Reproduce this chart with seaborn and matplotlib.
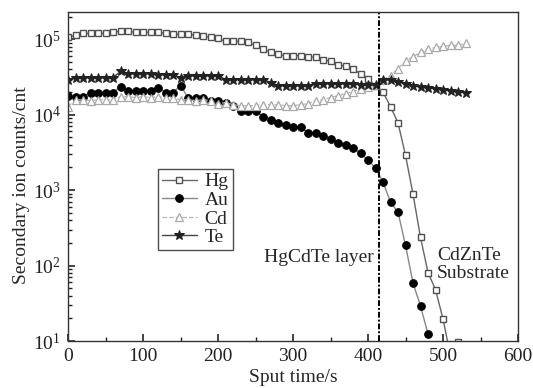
import numpy as np
import pandas as pd
import matplotlib
matplotlib.use("Agg")
import matplotlib.pyplot as plt
import seaborn as sns

# sputter time grid (s), one point every 10 s
t_hg = list(range(0, 530, 10))
t_au = list(range(0, 490, 10))
t_cd = list(range(0, 540, 10))
t_te = list(range(0, 540, 10))

hg = [1.06e5, 1.13e5, 1.2e5, 1.2e5, 1.2e5, 1.2e5, 1.24e5, 1.28e5, 1.28e5, 1.24e5,
      1.24e5, 1.24e5, 1.24e5, 1.2e5, 1.17e5, 1.17e5, 1.17e5, 1.13e5, 1.1e5, 1.06e5,
      1.03e5, 9.4e4, 9.4e4, 9.4e4, 9.1e4, 8.3e4, 7.4e4, 6.7e4, 6.3e4, 6.1e4,
      6.1e4, 6.1e4, 5.9e4, 5.75e4, 5.4e4, 5.1e4, 4.6e4, 4.4e4, 4.0e4, 3.5e4,
      3.0e4, 2.4e4, 2.0e4, 1.28e4, 7.8e3, 2.9e3, 885, 236, 81, 48,
      19.6, 6.3, 9.7]

au = [1.79e4, 1.74e4, 1.74e4, 1.97e4, 1.97e4, 1.97e4, 1.97e4, 2.36e4, 2.09e4, 2.09e4,
      2.09e4, 2.09e4, 2.29e4, 1.97e4, 1.97e4, 2.44e4, 1.69e4, 1.69e4, 1.69e4, 1.54e4,
      1.54e4, 1.45e4, 1.32e4, 1.13e4, 1.13e4, 1.13e4, 9.4e3, 8.6e3, 7.8e3, 7.4e3,
      6.9e3, 6.9e3, 5.75e3, 5.75e3, 5.25e3, 4.8e3, 4.2e3, 4.0e3, 3.6e3, 3.1e3,
      2.5e3, 1.96e3, 1.28e3, 690, 510, 185, 59, 29, 12.4]

cd = [1.28e4, 1.58e4, 1.58e4, 1.54e4, 1.58e4, 1.58e4, 1.58e4, 1.74e4, 1.74e4, 1.69e4,
      1.74e4, 1.69e4, 1.74e4, 1.69e4, 1.69e4, 1.58e4, 1.58e4, 1.54e4, 1.58e4, 1.54e4,
      1.4e4, 1.45e4, 1.36e4, 1.32e4, 1.32e4, 1.32e4, 1.36e4, 1.36e4, 1.36e4, 1.32e4,
      1.32e4, 1.36e4, 1.4e4, 1.54e4, 1.58e4, 1.69e4, 1.79e4, 1.9e4, 2.03e4, 2.22e4,
      2.36e4, 2.5e4, 2.93e4, 3.3e4, 4.1e4, 5.1e4, 5.9e4, 6.7e4, 7.4e4, 7.8e4,
      8.07e4, 8.3e4, 8.3e4, 8.85e4]

te = [2.93e4, 3.11e4, 3.11e4, 3.11e4, 3.11e4, 3.11e4, 3.11e4, 3.75e4, 3.52e4, 3.52e4,
      3.52e4, 3.52e4, 3.4e4, 3.4e4, 3.4e4, 3.11e4, 3.3e4, 3.3e4, 3.3e4, 3.3e4,
      3.3e4, 2.93e4, 2.93e4, 2.93e4, 2.93e4, 2.93e4, 2.93e4, 2.67e4, 2.44e4, 2.44e4,
      2.44e4, 2.44e4, 2.44e4, 2.59e4, 2.59e4, 2.59e4, 2.59e4, 2.59e4, 2.59e4, 2.5e4,
      2.5e4, 2.5e4, 2.93e4, 2.93e4, 2.75e4, 2.59e4, 2.44e4, 2.36e4, 2.29e4, 2.22e4,
      2.15e4, 2.09e4, 2.03e4, 1.97e4]

interface_t = 414

sns.set_style("ticks")
plt.rcParams["font.family"] = ["Liberation Serif", "DejaVu Serif"]
plt.rcParams["mathtext.fontset"] = "stix"

fig = plt.figure(figsize=(5.33, 3.88), dpi=100)
ax = fig.add_axes([0.1276, 0.121, 0.8443, 0.848])

sns.lineplot(x=t_hg, y=hg, ax=ax, color="#666666", lw=1.0, marker="s", ms=5,
             mfc="white", mec="#505050", mew=1.0, label="Hg")
sns.lineplot(x=t_au, y=au, ax=ax, color="#888888", lw=1.0, marker="o", ms=5.5,
             mfc="black", mec="black", label="Au")
sns.lineplot(x=t_cd, y=cd, ax=ax, color="#b5b5b5", lw=0.9, ls="--", marker="^", ms=5.5,
             mfc="white", mec="#a8a8a8", mew=0.9, label="Cd")
sns.lineplot(x=t_te, y=te, ax=ax, color="#444444", lw=1.0, marker="*", ms=7,
             mfc="#222222", mec="#222222", label="Te")

ax.axvline(interface_t, color="black", lw=1.4, ls=(0, (3, 1, 1, 1)))

ax.set_yscale("log")
ax.set_xlim(0, 600)
ax.set_ylim(10, 2.3e5)
ax.set_xticks([0, 100, 200, 300, 400, 500, 600])
ax.set_xticks([50, 150, 250, 350, 450, 550], minor=True)
ax.tick_params(which="both", direction="in", top=False, right=False, labelsize=14,
               colors="#222222")
ax.tick_params(which="major", length=5, width=1.2, pad=5)
ax.tick_params(which="minor", length=3, width=1.0)
for s in ax.spines.values():
    s.set_color("#333333")
    s.set_linewidth(1.0)

ax.set_xlabel("Sput time/s", fontsize=14, labelpad=3)
ax.set_ylabel("Secondary ion counts/cnt", fontsize=14)
ax.yaxis.set_label_coords(-0.084, 0.474)

ax.text(408, 128, "HgCdTe layer", fontsize=14, ha="right", va="center")
ax.text(492, 103, "CdZnTe\nSubstrate", fontsize=14, ha="left", va="center",
        linespacing=1.05)

leg = ax.legend(loc="upper left", bbox_to_anchor=(0.2, 0.523), borderaxespad=0,
                fancybox=False, edgecolor="#222222", fontsize=14, handlelength=1.8,
                handletextpad=0.4, labelspacing=0.05, borderpad=0.2)
leg.get_frame().set_linewidth(1.0)

fig.savefig("out.png", dpi=100)
